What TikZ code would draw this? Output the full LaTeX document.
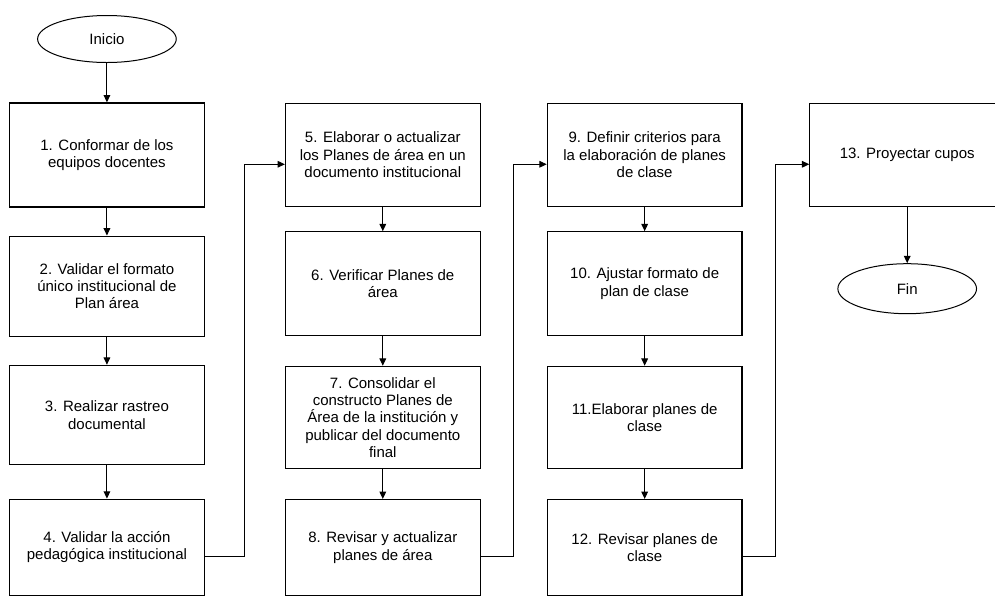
\documentclass[tikz,border=0pt]{standalone}
\usepackage{fontspec}
\setmainfont{Liberation Sans}
\usetikzlibrary{arrows.meta,positioning,calc,shapes.geometric}

\begin{document}
\begin{tikzpicture}[>={Triangle[length=5.5pt,width=5pt]},node distance=21pt,
  paso/.style={draw,line width=0.9pt,minimum width=146pt,minimum height=77.5pt,align=center,inner sep=2pt,font=\fontsize{11.25}{13}\selectfont},
  terminal/.style={draw,ellipse,line width=0.75pt,minimum width=104pt,minimum height=35.25pt,inner sep=1pt,font=\fontsize{11.25}{13}\selectfont},
  flecha/.style={->,line width=0.75pt}]
% first column
\node[terminal] (inicio) {Inicio};
\node[paso,minimum height=78pt,below=29.5pt of inicio] (p1) {1. Conformar de los\\equipos docentes};
\node[paso,minimum height=75pt,below=of p1] (p2) {2. Validar el formato\\único institucional de\\Plan área};
\node[paso,minimum height=74.5pt,below=of p2] (p3) {3. Realizar rastreo\\documental};
\node[paso,minimum height=72pt,below=25pt of p3] (p4) {4. Validar la acción\\pedagógica institucional};
% second column
\node[paso,right=60pt of p1] (p5) {5. Elaborar o actualizar\\los Planes de área en un\\documento institucional};
\node[paso,below=18pt of p5] (p6) {6. Verificar Planes de\\área};
\node[paso,minimum height=76.5pt,below=22.5pt of p6] (p7) {7. Consolidar el\\constructo Planes de\\Área de la institución y\\publicar del documento\\final};
\node[paso,minimum height=72pt,below=22.5pt of p7] (p8) {8. Revisar y actualizar\\planes de área};
% third column
\node[paso,right=49.5pt of p5] (p9) {9. Definir criterios para\\la elaboración de planes\\de clase};
\node[paso,below=18pt of p9] (p10) {10. Ajustar formato de\\plan de clase};
\node[paso,minimum height=76.5pt,below=22.5pt of p10] (p11) {11.Elaborar planes de\\clase};
\node[paso,minimum height=72pt,below=22.5pt of p11] (p12) {12. Revisar planes de\\clase};
% last column
\node[paso,right=50pt of p9] (p13) {13. Proyectar cupos};
\node[terminal,minimum height=37.5pt,below=42pt of p13] (fin) {Fin};

\pgfresetboundingbox
\useasboundingbox ($(p1.west |- inicio.north)+(-6.75pt,11.25pt)$) rectangle ++(746.25pt,-450.75pt);

\draw[flecha] (inicio) -- (p1);
\draw[flecha] (p1) -- (p2);
\draw[flecha] (p2) -- (p3);
\draw[flecha] (p3) -- (p4);
\draw[flecha] (p5) -- (p6);
\draw[flecha] (p6) -- (p7);
\draw[flecha] (p7) -- (p8);
\draw[flecha] (p9) -- (p10);
\draw[flecha] (p10) -- (p11);
\draw[flecha] (p11) -- (p12);
\draw[flecha] (p13) -- (fin);
% links between columns
\draw[flecha] ([yshift=-7pt]p4.east) -| ($(p4.east)!.5!(p5.west)$) |- ([yshift=-7pt]p5.west);
\draw[flecha] ([yshift=-7pt]p8.east) -| ($(p8.east)!.5!(p9.west)$) |- ([yshift=-7pt]p9.west);
\draw[flecha] ([yshift=-7pt]p12.east) -| ($(p12.east)!.5!(p13.west)$) |- ([yshift=-7pt]p13.west);
\end{tikzpicture}
\end{document}
